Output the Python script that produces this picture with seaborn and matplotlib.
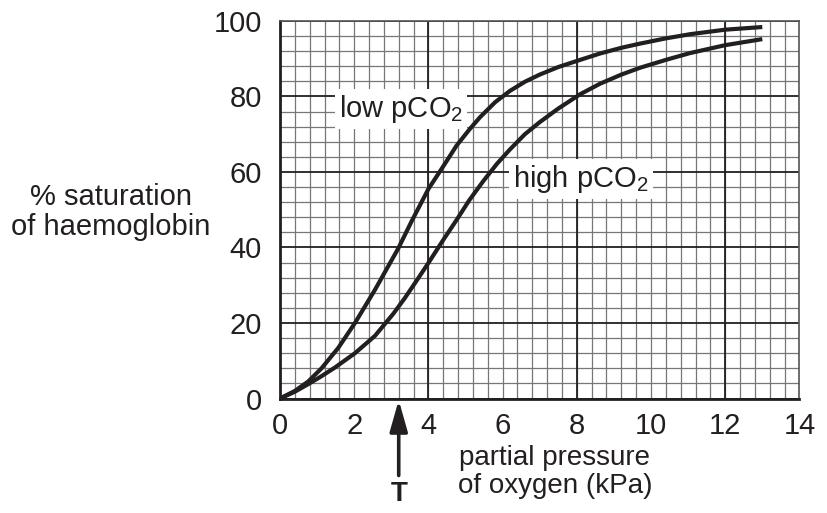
import numpy as np
import pandas as pd
import matplotlib
matplotlib.use("Agg")
import matplotlib.pyplot as plt
import matplotlib.transforms as mtransforms
from matplotlib.ticker import MultipleLocator
import seaborn as sns

# values
low_x = [0, 0.4, 0.76, 1.12, 1.57, 2.02, 2.56, 3.19, 3.55, 4.0, 4.4, 4.76, 5.1, 5.39, 5.8, 6.2,
         6.6, 7.0, 7.5, 8.09, 8.63, 9.2, 9.7, 10.4, 11.05, 12.0, 13.0]
low_y = [0, 2.0, 4.5, 8.0, 13.4, 20.0, 28.8, 39.8, 47.0, 55.5, 61.5, 67.0, 71.2, 74.5, 78.5, 81.5,
         83.9, 85.8, 87.8, 89.7, 91.4, 92.9, 94.0, 95.4, 96.5, 97.7, 98.4]
high_x = [0, 0.4, 0.76, 1.1, 1.48, 2.02, 2.56, 3.05, 3.35, 3.64, 4.0, 4.4, 4.76, 5.1, 5.48, 5.85,
          6.2, 6.6, 7.0, 7.5, 8.09, 8.63, 9.2, 9.7, 10.4, 11.05, 12.0, 13.0]
high_y = [0, 1.8, 3.8, 5.8, 8.2, 12.0, 16.6, 22.4, 26.4, 30.6, 35.9, 42.0, 47.3, 52.5, 57.6, 62.2,
          66.0, 70.0, 73.2, 76.8, 80.6, 83.4, 85.8, 87.6, 89.7, 91.5, 93.6, 95.2]

x_ticks = [0, 2, 4, 6, 8, 10, 12, 14]
y_ticks = [0, 20, 40, 60, 80, 100]
t_x = 3.2

sns.set_style("white")
plt.rcParams["font.family"] = ["Liberation Sans", "DejaVu Sans"]
plt.rcParams["mathtext.fontset"] = "custom"
plt.rcParams["mathtext.rm"] = "Liberation Sans"
plt.rcParams["mathtext.it"] = "Liberation Sans"

ink = "#231f20"
fig = plt.figure(figsize=(8.27, 5.13), dpi=100)
ax = fig.add_axes([280 / 827, 1 - 398.5 / 513, 519.4 / 827, 377.5 / 513])

df = pd.concat([
    pd.DataFrame({"x": low_x, "y": low_y, "curve": "low"}),
    pd.DataFrame({"x": high_x, "y": high_y, "curve": "high"}),
])
sns.lineplot(data=df, x="x", y="y", units="curve", estimator=None, sort=False,
             color=ink, lw=3, ax=ax, legend=False, zorder=5,
             solid_joinstyle="round", solid_capstyle="butt")

ax.set_xlim(0, 14)
ax.set_ylim(0, 100)
ax.set_xticks(x_ticks)
ax.set_yticks(y_ticks)
ax.xaxis.set_minor_locator(MultipleLocator(0.4))
ax.yaxis.set_minor_locator(MultipleLocator(4))
ax.set_xlabel("")
ax.set_ylabel("")

# graph paper grid
ax.grid(which="minor", color="#777777", lw=0.9)
ax.xaxis.grid(which="major", color="#777777", lw=0.9)
ax.yaxis.grid(which="major", color=ink, lw=1.3)
for xv in [4, 8, 12]:
    ax.axvline(xv, color=ink, lw=1.3, zorder=1)
ax.set_axisbelow(True)

ax.tick_params(which="major", direction="out", length=9, width=1.8, color=ink,
               labelsize=21, labelcolor=ink)
ax.tick_params(axis="y", pad=4)
ax.tick_params(axis="x", pad=1)
ax.tick_params(which="minor", length=0)
for side in ["left", "bottom"]:
    ax.spines[side].set_color(ink)
    ax.spines[side].set_linewidth(2)
for side in ["top", "right"]:
    ax.spines[side].set_color("#555555")
    ax.spines[side].set_linewidth(1.2)

box = dict(facecolor="white", edgecolor="none", pad=3)
ax.text(1.59, 74.6, "low pCO$_2$", fontsize=21, color=ink, va="baseline", ha="left", bbox=box, zorder=4)
ax.text(6.28, 56.1, "high pCO$_2$", fontsize=21, color=ink, va="baseline", ha="left", bbox=box, zorder=4)

fig.text(111 / 827, 1 - 212 / 513, "% saturation\nof haemoglobin", fontsize=21, color=ink,
         ha="center", va="center", linespacing=1.1)

trans = mtransforms.blended_transform_factory(ax.transData, ax.transAxes)
ax.text(7.41, -0.194, "partial pressure\nof oxygen (kPa)", transform=trans, fontsize=20,
        color=ink, ha="center", va="center", linespacing=1.1)
ax.annotate("", xy=(t_x, -0.004), xytext=(t_x, -0.204), xycoords=trans, textcoords=trans,
            arrowprops=dict(arrowstyle="-|>,head_length=0.95,head_width=0.27", color=ink, lw=2.6,
                            mutation_scale=20, shrinkA=0, shrinkB=0),
            annotation_clip=False)
ax.text(t_x, -0.218, "T", transform=trans, fontsize=20, fontweight="bold", color=ink,
        ha="center", va="top")

fig.savefig("out.png", dpi=100)
